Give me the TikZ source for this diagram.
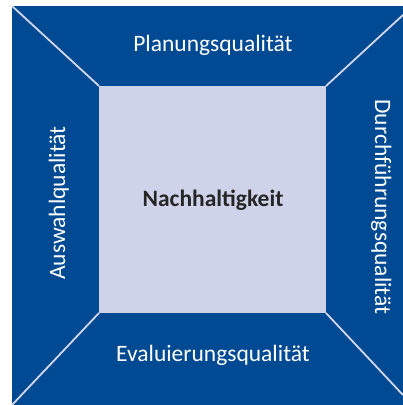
\documentclass[tikz,border=0pt]{standalone}
\usepackage{fontspec}
\setmainfont{Carlito}
\definecolor{qblau}{HTML}{004A93}
\definecolor{qlila}{HTML}{CFD3EA}
\tikzset{
  feld/.style={text=white, font=\fontsize{23.5}{28}\selectfont, anchor=base},
  kante/.style={draw=qlila!90!white, line width=1.8pt}
}

\begin{document}
\begin{tikzpicture}[x=1pt, y=1pt]
  \useasboundingbox (0,0) rectangle (403,405);
  % outer frame and centre
  \fill[qblau] (12,0) rectangle (403,399);
  \fill[qlila] (99,92) rectangle (326,319);
  \draw[kante] (12,399) -- (99,319);
  \draw[kante] (403,390) -- (326,319);
  \draw[kante] (12,0) -- (99,92);
  \draw[kante] (403,10) -- (326,92);
  % labels
  \node[feld] (plan) at (213,353) {Planungsqualität};
  \node[feld] (eval) at (213,43) {Evaluierungsqualität};
  \node[feld, rotate=90] (ausw) at (65,202) {Auswahlqualität};
  \node[feld, rotate=-90] (durch) at (375,198) {Durchführungsqualität};
  \node[anchor=base, text=black!85, font=\fontsize{23.5}{28}\selectfont\bfseries] (nach) at (213,198) {Nachhaltigkeit};
\end{tikzpicture}
\end{document}
